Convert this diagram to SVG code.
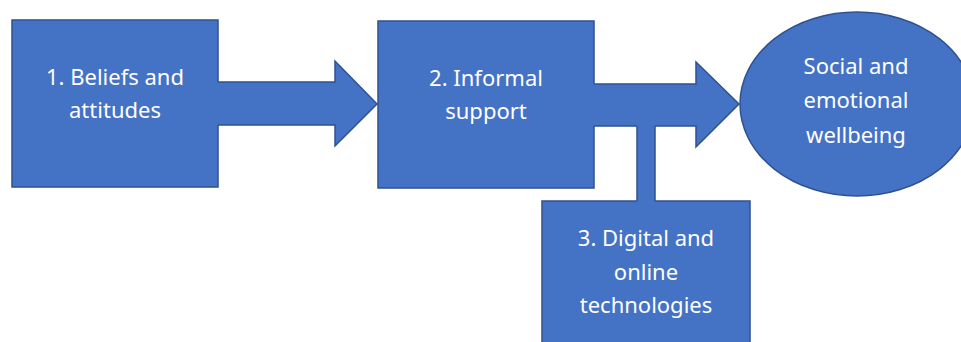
<svg xmlns="http://www.w3.org/2000/svg" width="961" height="342" viewBox="0 0 961 342">
<style>
.shape{fill:#4472C4;stroke:#2F528F;stroke-width:1.5}
.fill{fill:#4472C4;stroke:none}
.edge{fill:none;stroke:#2F528F;stroke-width:1.5;stroke-linejoin:miter}
text{font-family:"Noto Sans","Open Sans",sans-serif;font-size:22px;fill:#FFFFFF;text-anchor:middle}
</style>
<rect width="961" height="342" fill="#FFFFFF"/>
<g id="node-beliefs">
<rect class="shape" x="12" y="20" width="206" height="167"/>
<text x="115" y="85">1. Beliefs and</text>
<text x="115" y="118">attitudes</text>
</g>
<g id="node-informal">
<rect class="shape" x="378" y="21" width="216" height="167"/>
<text x="486" y="86">2. Informal</text>
<text x="486" y="119">support</text>
</g>
<g id="node-wellbeing">
<ellipse class="shape" cx="857" cy="104" rx="117" ry="92"/>
<text x="856" y="74">Social and</text>
<text x="856" y="108">emotional</text>
<text x="856" y="143">wellbeing</text>
</g>
<g id="node-digital">
<rect class="shape" x="542" y="201" width="208" height="160"/>
<text x="646" y="246">3. Digital and</text>
<text x="646" y="280">online</text>
<text x="646" y="313">technologies</text>
</g>
<g id="connectors">
<g id="arrow-1-2">
<polygon class="fill" points="216.5,82 335,82 335,61 377,104 335,146 335,125 216.5,125"/>
<path class="edge" d="M218,82 H335 V61 L377,104 L335,146 V125 H218"/>
</g>
<g id="arrow-2-wellbeing">
<polygon class="fill" points="592.5,84 696,84 696,62 739,104 696,147 696,126 592.5,126"/>
<path class="edge" d="M594,84 H696 V62 L739,104 L696,147 V126 H594"/>
</g>
<g id="link-digital">
<rect class="fill" x="637" y="125" width="18" height="77.5"/>
<path class="edge" d="M637,126 V201 M655,126 V201"/>
</g>
</g>
</svg>
